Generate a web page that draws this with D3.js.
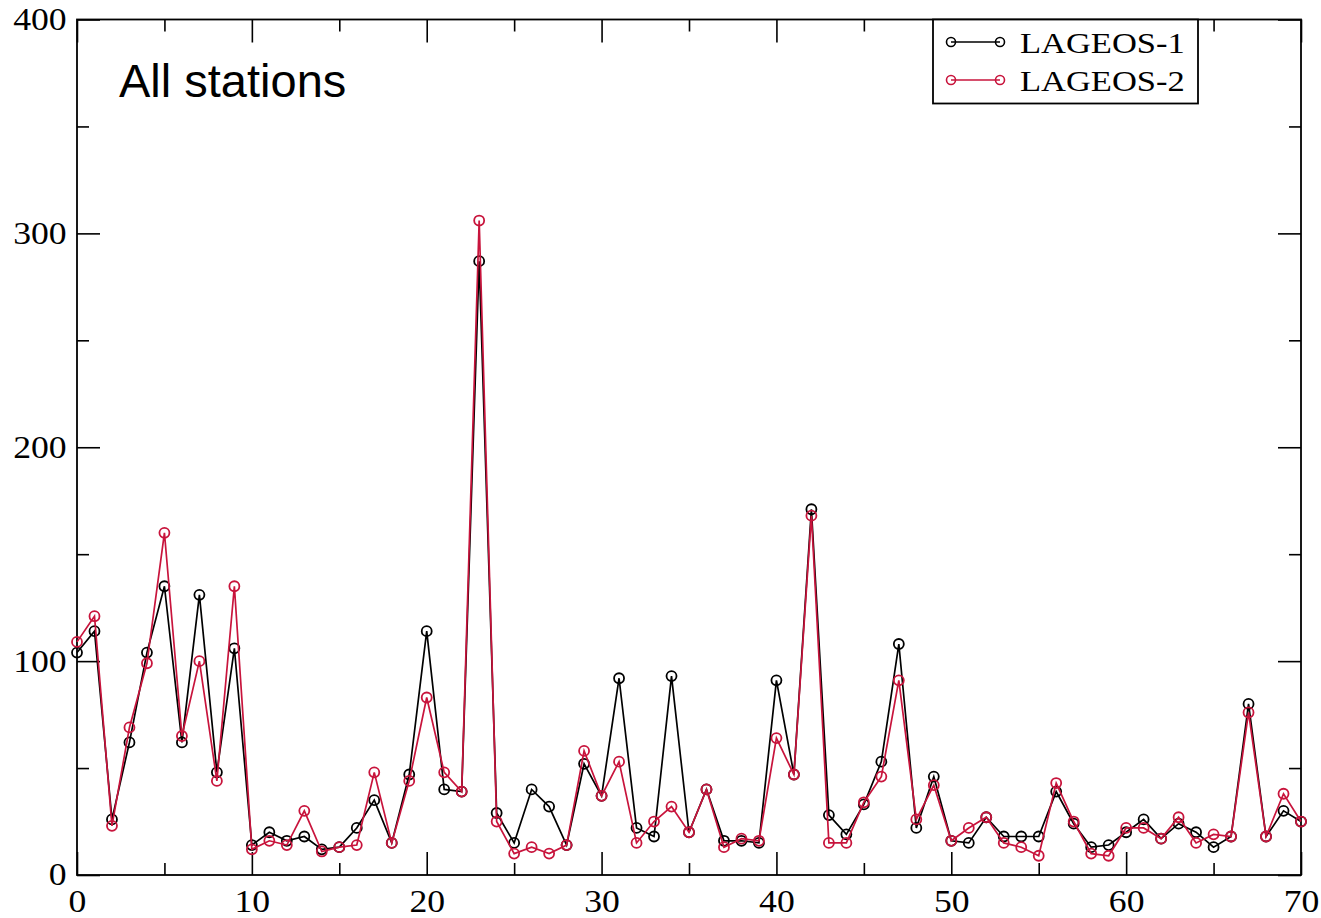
<!DOCTYPE html>
<html>
<head>
<meta charset="utf-8">
<script src="https://cdn.jsdelivr.net/npm/d3@7"></script>
<style>
  html, body { margin: 0; padding: 0; background: #fff; }
  svg { display: block; }
</style>
</head>
<body>
<svg id="chart" width="1321" height="918"></svg>
<script>
// ---- data ----
const xIndex = d3.range(0, 71);
const lageos1 = [104,114,26,62,104,135,62,131,48,106,
                 14,20,16,18,12,13,22,35,15,47,
                 114,40,39,287,29,15,40,32,14,52,
                 37,92,22,18,93,20,40,16,16,15,
                 91,47,171,28,19,33,53,108,22,46,
                 16,15,27,18,18,18,39,24,13,14,
                 20,26,17,24,20,13,18,80,18,30,25];
const lageos2 = [109,121,23,69,99,160,65,100,44,135,
                 12,16,14,30,11,13,14,48,15,44,
                 83,48,39,306,25,10,13,10,14,58,
                 37,53,15,25,32,20,40,13,17,16,
                 64,47,168,15,15,34,46,91,26,42,
                 16,22,27,15,13,9,43,25,10,9,
                 22,22,17,27,15,19,18,76,18,38,25];
const seriesNames = ["LAGEOS-1", "LAGEOS-2"];
const xMajorTicks = [0,10,20,30,40,50,60,70];
const xMinorTicks = [5,15,25,35,45,55,65];
const yMajorTicks = [0,100,200,300,400];
const yMinorTicks = [50,150,250,350];
const annotation = "All stations";

// ---- layout ----
const colors = ["#000000", "#c8143c"];
const L = 77, R = 1301, T = 19.5, B = 875;
const svg = d3.select("#chart");
const x = d3.scaleLinear().domain([0, 70]).range([L, R]);
const y = d3.scaleLinear().domain([0, 400]).range([B, T]);
const serif = "'Liberation Serif', 'Times New Roman', serif";
const stretch = "scale(1.15,1)";

function styleAxis(g, withText) {
  g.select(".domain").remove();
  g.selectAll(".tick line").attr("stroke", "#000").attr("stroke-width", 1.6);
  if (withText) {
    g.selectAll("text")
      .attr("font-family", serif)
      .attr("font-size", 31)
      .attr("fill", "#000")
      .attr("transform", stretch);
  } else {
    g.selectAll("text").remove();
  }
}

// bottom
svg.append("g").attr("transform", `translate(0,${B})`)
  .call(d3.axisBottom(x).tickValues(xMajorTicks).tickSizeInner(-23).tickSizeOuter(0).tickPadding(15).tickFormat(d3.format("d")))
  .call(g => styleAxis(g, true));
svg.append("g").attr("transform", `translate(0,${B})`)
  .call(d3.axisBottom(x).tickValues(xMinorTicks).tickSizeInner(-12).tickSizeOuter(0))
  .call(g => styleAxis(g, false));
// top
svg.append("g").attr("transform", `translate(0,${T})`)
  .call(d3.axisTop(x).tickValues(xMajorTicks).tickSizeInner(-23).tickSizeOuter(0))
  .call(g => styleAxis(g, false));
svg.append("g").attr("transform", `translate(0,${T})`)
  .call(d3.axisTop(x).tickValues(xMinorTicks).tickSizeInner(-12).tickSizeOuter(0))
  .call(g => styleAxis(g, false));
// left
svg.append("g").attr("transform", `translate(${L},0)`)
  .call(d3.axisLeft(y).tickValues(yMajorTicks).tickSizeInner(-23).tickSizeOuter(0).tickPadding(9).tickFormat(d3.format("d")))
  .call(g => styleAxis(g, true));
svg.append("g").attr("transform", `translate(${L},0)`)
  .call(d3.axisLeft(y).tickValues(yMinorTicks).tickSizeInner(-12).tickSizeOuter(0))
  .call(g => styleAxis(g, false));
// right
svg.append("g").attr("transform", `translate(${R},0)`)
  .call(d3.axisRight(y).tickValues(yMajorTicks).tickSizeInner(-23).tickSizeOuter(0))
  .call(g => styleAxis(g, false));
svg.append("g").attr("transform", `translate(${R},0)`)
  .call(d3.axisRight(y).tickValues(yMinorTicks).tickSizeInner(-12).tickSizeOuter(0))
  .call(g => styleAxis(g, false));

// frame
svg.append("rect").attr("x", L).attr("y", T).attr("width", R - L).attr("height", B - T)
  .attr("fill", "none").attr("stroke", "#000").attr("stroke-width", 1.8);

// series
const allSeries = [lageos1, lageos2];
const line = d3.line().x((d, i) => x(xIndex[i])).y(d => y(d));
allSeries.forEach((vals, k) => {
  const g = svg.append("g");
  g.append("path").datum(vals).attr("d", line)
    .attr("fill", "none").attr("stroke", colors[k]).attr("stroke-width", 1.7);
  g.selectAll("circle").data(vals).join("circle")
    .attr("cx", (d, i) => x(xIndex[i])).attr("cy", d => y(d))
    .attr("r", 5).attr("fill", "none")
    .attr("stroke", colors[k]).attr("stroke-width", 1.8);
});

// annotation
svg.append("text").attr("x", 119).attr("y", 97)
  .attr("font-family", "'Liberation Sans', Arial, sans-serif")
  .attr("font-size", 47).attr("fill", "#000").text(annotation);

// legend
const lg = svg.append("g");
lg.append("rect").attr("x", 933).attr("y", T).attr("width", 265).attr("height", 84)
  .attr("fill", "#fff").attr("stroke", "#000").attr("stroke-width", 1.8);
seriesNames.forEach((name, k) => {
  const cy = 42 + k * 38;
  lg.append("line").attr("x1", 951).attr("x2", 1000).attr("y1", cy).attr("y2", cy)
    .attr("stroke", colors[k]).attr("stroke-width", 1.5);
  [951, 1000].forEach(cx => lg.append("circle").attr("cx", cx).attr("cy", cy).attr("r", 4.5)
    .attr("fill", "none").attr("stroke", colors[k]).attr("stroke-width", 1.6));
  lg.append("text").attr("transform", `translate(1020,${cy + 11}) ${stretch}`)
    .attr("font-family", serif).attr("font-size", 30).attr("fill", "#000").text(name);
});
</script>
</body>
</html>
